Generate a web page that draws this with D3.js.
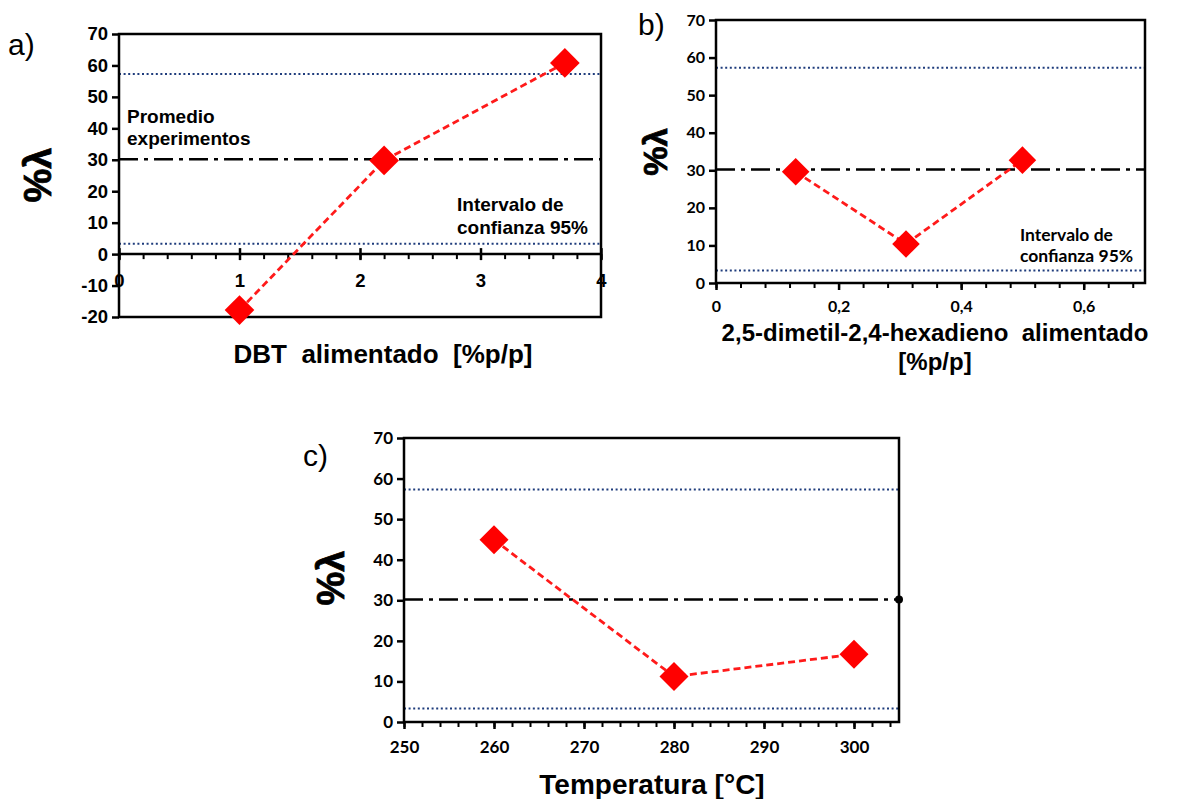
<!DOCTYPE html>
<html>
<head>
<meta charset="utf-8">
<script src="https://cdn.jsdelivr.net/npm/d3@7"></script>
<style>
  body { margin: 0; background: #fff; }
  text { fill: #000; }
</style>
</head>
<body>
<script>
// Data
const aX = [1, 2.2, 3.7]
const aY = [-17.8, 29.8, 60.8]
const bX = [0.13, 0.31, 0.5]
const bY = [29.6, 10.4, 32.7]
const cX = [260, 280, 300]
const cY = [44.9, 11.2, 16.7]

// reference lines (confidence interval + mean of experiments)
const ciUpper = 57.3
const promedio = 30.2
const ciLower = 3.3

// ticks
const aXTicks = [0, 1, 2, 3, 4]
const aYTicks = [-20, -10, 0, 10, 20, 30, 40, 50, 60, 70]
const bXTicks = [0, 0.2, 0.4, 0.6]
const lamTicks = [0, 10, 20, 30, 40, 50, 60, 70]
const cXTicks = [250, 260, 270, 280, 290, 300]

const width = 1194
const height = 799

const svg = d3.select("body").append("svg")
    .attr("width", width)
    .attr("height", height)

const arial = "'Liberation Sans', Arial, sans-serif"
const calib = "Lato, 'Open Sans', sans-serif"

const render = o => {
    const x = d3.scaleLinear().domain(o.xDom).range([o.left, o.right])
    const y = d3.scaleLinear().domain(o.yDom).range([o.bottom, o.top])
    const g = svg.append("g")

    // reference lines
    g.selectAll(".ci").data([ciUpper, ciLower])
      .enter().append("line")
      .attr("x1", o.left).attr("x2", o.right)
      .attr("y1", d => y(d)).attr("y2", d => y(d))
      .attr("stroke", "#1f3c7c")
      .attr("stroke-width", 2)
      .attr("stroke-dasharray", "2,2.6")

    g.append("line")
      .attr("x1", o.left).attr("x2", o.right)
      .attr("y1", y(promedio)).attr("y2", y(promedio))
      .attr("stroke", "#000")
      .attr("stroke-width", 2.5)
      .attr("stroke-dasharray", "19,6,4,6")

    if (o.endDot) {
        g.append("circle")
          .attr("cx", o.right).attr("cy", y(promedio))
          .attr("r", 4).attr("fill", "#000")
    }

    // y axis
    const yAxisG = g.append("g")
      .attr("transform", `translate(${o.left},0)`)
      .call(d3.axisLeft(y).tickValues(o.yTicks).tickSize(7).tickPadding(4)
        .tickFormat(d => String(d)))
    yAxisG.attr("font-family", o.tickFont).attr("font-weight", "bold")
      .attr("font-size", o.tickSize)
    yAxisG.select(".domain").remove()
    yAxisG.selectAll(".tick line").attr("stroke-width", 2.5)

    // x axis (minor + major)
    const xAt = y(o.xAxisAt)
    const minorG = g.append("g")
      .attr("transform", `translate(0,${xAt})`)
      .call(d3.axisBottom(x).tickValues(o.xMinor).tickSize(5).tickFormat(""))
    minorG.select(".domain").remove()
    minorG.selectAll(".tick line").attr("stroke-width", 2)

    const xAxisG = g.append("g")
      .attr("transform", `translate(0,${xAt})`)
      .call(d3.axisBottom(x).tickValues(o.xTicks).tickSize(7).tickPadding(o.xPad)
        .tickFormat(o.xFmt))
    xAxisG.attr("font-family", o.tickFont).attr("font-weight", "bold")
      .attr("font-size", o.tickSize)
    xAxisG.select(".domain").remove()
    xAxisG.selectAll(".tick line").attr("stroke-width", 2.5)
    if (o.crossTicks) xAxisG.selectAll(".tick line").attr("y1", -6).attr("y2", 6)

    if (o.xAxisAt !== o.yDom[0]) {
        g.append("line")
          .attr("x1", o.left).attr("x2", o.right)
          .attr("y1", xAt).attr("y2", xAt)
          .attr("stroke", "#000").attr("stroke-width", 2.5)
    }

    // frame
    g.append("rect")
      .attr("x", o.left).attr("y", o.top)
      .attr("width", o.right - o.left).attr("height", o.bottom - o.top)
      .attr("fill", "none").attr("stroke", "#000").attr("stroke-width", 2.5)

    // series
    const pts = o.xs.map((v, i) => [v, o.ys[i]])
    g.append("path")
      .datum(pts)
      .attr("d", d3.line().x(d => x(d[0])).y(d => y(d[1])))
      .attr("fill", "none")
      .attr("stroke", "#ff1a1a")
      .attr("stroke-width", 2.8)
      .attr("stroke-dasharray", "7,4")

    g.selectAll(".pt").data(pts)
      .enter().append("path")
      .attr("d", d3.symbol(d3.symbolSquare, o.mk))
      .attr("transform", d => `translate(${x(d[0])},${y(d[1])}) rotate(45)`)
      .attr("fill", "#ff0000")

    // panel letter
    g.append("text")
      .attr("x", o.letterX).attr("y", o.letterY)
      .style("font-family", arial).style("font-size", "30px")
      .text(o.letter)

    // y title
    g.append("text")
      .attr("transform", `translate(${o.yTitleX},${o.yTitleY}) rotate(-90)`)
      .attr("text-anchor", "middle")
      .attr("dominant-baseline", "central")
      .style("font-family", arial).style("font-weight", "bold")
      .style("font-size", o.yTitleSize + "px")
      .style("stroke", "#000").style("stroke-width", 0.8)
      .text("%λ")

    // x title
    o.xTitle.forEach((t, i) => {
        g.append("text")
          .attr("x", o.xTitleX).attr("y", o.xTitleY + i * o.xTitleLh)
          .attr("text-anchor", "middle")
          .style("font-family", arial).style("font-weight", "bold")
          .style("font-size", o.xTitleSize + "px")
          .style("white-space", "pre")
          .text(t)
    })

    // annotations
    o.notes.forEach(n => {
        n.lines.forEach((t, i) => {
            g.append("text")
              .attr("x", n.x).attr("y", n.y + i * n.lh)
              .style("font-family", n.font).style("font-weight", "bold")
              .style("font-size", n.size + "px")
              .text(t)
        })
    })
}

// a)
render({
    left: 119, right: 601, top: 34, bottom: 317,
    xDom: [0, 4], yDom: [-20, 70], xAxisAt: 0, crossTicks: true,
    xTicks: aXTicks, xMinor: d3.range(0, 4.01, 0.2), yTicks: aYTicks,
    xFmt: d3.format("d"), xPad: 13,
    tickFont: arial, tickSize: 18.5,
    xs: aX, ys: aY, mk: 440,
    letter: "a)", letterX: 8, letterY: 55,
    yTitleX: 38, yTitleY: 175, yTitleSize: 38,
    xTitle: ["DBT  alimentado  [%p/p]"], xTitleX: 383, xTitleY: 363, xTitleLh: 0, xTitleSize: 26,
    notes: [
        {x: 127, y: 123, lh: 22, size: 19, font: arial, lines: ["Promedio", "experimentos"]},
        {x: 457, y: 211, lh: 23, size: 19, font: arial, lines: ["Intervalo de", "confianza 95%"]}
    ]
})

// b)
render({
    left: 716, right: 1145, top: 20, bottom: 283,
    xDom: [0, 0.7], yDom: [0, 70], xAxisAt: 0,
    xTicks: bXTicks, xMinor: d3.range(0, 0.701, 0.04), yTicks: lamTicks,
    xFmt: d => d3.format("")(d).replace(".", ","), xPad: 11,
    tickFont: calib, tickSize: 16,
    xs: bX, ys: bY, mk: 380,
    letter: "b)", letterX: 638, letterY: 35,
    yTitleX: 655, yTitleY: 152, yTitleSize: 33,
    xTitle: ["2,5-dimetil-2,4-hexadieno  alimentado", "[%p/p]"], xTitleX: 935, xTitleY: 341, xTitleLh: 29, xTitleSize: 24,
    notes: [
        {x: 1020, y: 241, lh: 21, size: 17.5, font: calib, lines: ["Intervalo de", "confianza 95%"]}
    ]
})

// c)
render({
    left: 404, right: 899, top: 438, bottom: 722,
    xDom: [250, 305], yDom: [0, 70], xAxisAt: 0,
    xTicks: cXTicks, xMinor: d3.range(250, 305, 2), yTicks: lamTicks,
    xFmt: d3.format("d"), xPad: 12,
    tickFont: calib, tickSize: 17,
    xs: cX, ys: cY, mk: 420, endDot: true,
    letter: "c)", letterX: 303, letterY: 466,
    yTitleX: 331, yTitleY: 578, yTitleSize: 38,
    xTitle: ["Temperatura [°C]"], xTitleX: 652, xTitleY: 794, xTitleLh: 0, xTitleSize: 28,
    notes: []
})
</script>
</body>
</html>
